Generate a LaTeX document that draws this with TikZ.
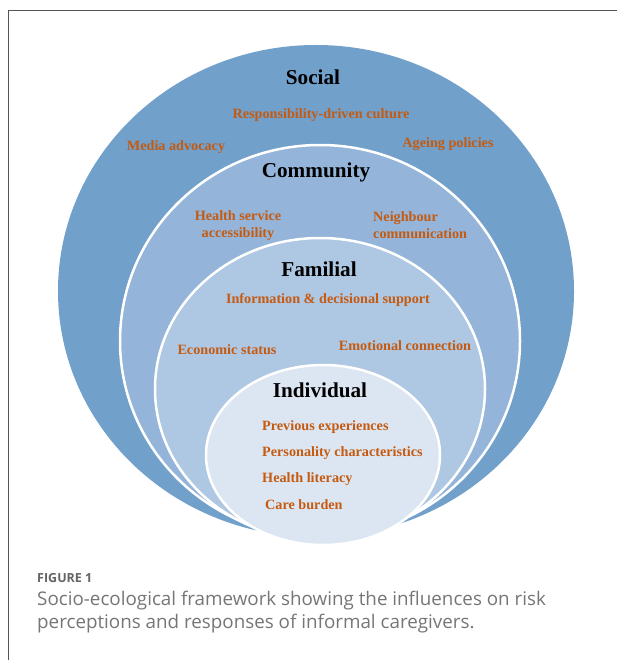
\documentclass[tikz,border=0pt]{standalone}
\usepackage{fontspec}
\setmainfont{Liberation Serif}
\newfontfamily\capfont{Open Sans}
\definecolor{socialc}{RGB}{113,160,203}
\definecolor{commc}{RGB}{148,181,217}
\definecolor{famc}{RGB}{174,199,227}
\definecolor{indc}{RGB}{220,230,242}
\definecolor{labc}{RGB}{197,90,17}
\definecolor{framec}{RGB}{85,85,85}
\definecolor{capc}{RGB}{118,118,118}
\definecolor{figc}{RGB}{100,100,100}
\tikzset{
  layer/.style={draw=white, line width=2.5pt},
  ttl/.style={font=\bfseries\fontsize{21.2}{23}\selectfont, text=black, inner sep=0pt, yshift=-1pt},
  lab/.style={font=\bfseries\fontsize{14.2}{17}\selectfont, text=labc, inner sep=0pt, yshift=-1.5pt},
  captxt/.style={font=\capfont\fontsize{18.8}{23}\selectfont, text=capc, inner sep=0pt, anchor=west}
}
\begin{document}
\begin{tikzpicture}[x=1pt,y=-1pt]
\useasboundingbox (0,0) rectangle (616,660);
\fill[white] (0,0) rectangle (616,660);
% frame
\draw[framec, line width=1.4pt] (8.5,700) -- (8.5,10.5) -- (640,10.5);
% layers
\fill[socialc] (316,291) ellipse [x radius=258, y radius=246];
\draw[layer, fill=commc] (320,341) ellipse [x radius=200, y radius=196];
\draw[layer, fill=famc] (320,389) ellipse [x radius=165, y radius=151];
\draw[layer, fill=indc] (323,455) ellipse [x radius=117, y radius=90];
% titles
\node[ttl] (social) at (313,76) {Social};
\node[ttl] (community) at (316,171) {Community};
\node[ttl] (familial) at (319,268) {Familial};
\node[ttl] (individual) at (320,389) {Individual};
% social labels
\node[lab] (resp) at (321,114) {Responsibility-driven culture};
\node[lab] (media) at (176,146) {Media advocacy};
\node[lab] (ageing) at (448,143) {Ageing policies};
% community labels
\node[lab, align=center] (health) at (238,224.5) {Health service\\accessibility};
\node[lab, align=left, anchor=west] (neigh) at (373,223.5) {Neighbour\\communication};
% familial labels
\node[lab] (info) at (328,299) {Information \& decisional support};
\node[lab] (econ) at (227,348) {Economic status};
\node[lab] (emot) at (405,344) {Emotional connection};
% individual labels
\node[lab, anchor=west] (prev) at (262,426) {Previous experiences};
\node[lab, anchor=west] (pers) at (262,452) {Personality characteristics};
\node[lab, anchor=west] (hlit) at (262,478) {Health literacy};
\node[lab, anchor=west] (care) at (265,503) {Care burden};
% caption
\node[captxt, font=\capfont\bfseries\fontsize{12.5}{14}\selectfont, text=figc] (fig) at (37,578) {FIGURE 1};
\node[captxt] (cap1) at (37,601) {Socio-ecological framework showing the influences on risk};
\node[captxt] (cap2) at (37,624) {perceptions and responses of informal caregivers.};
\end{tikzpicture}
\end{document}
